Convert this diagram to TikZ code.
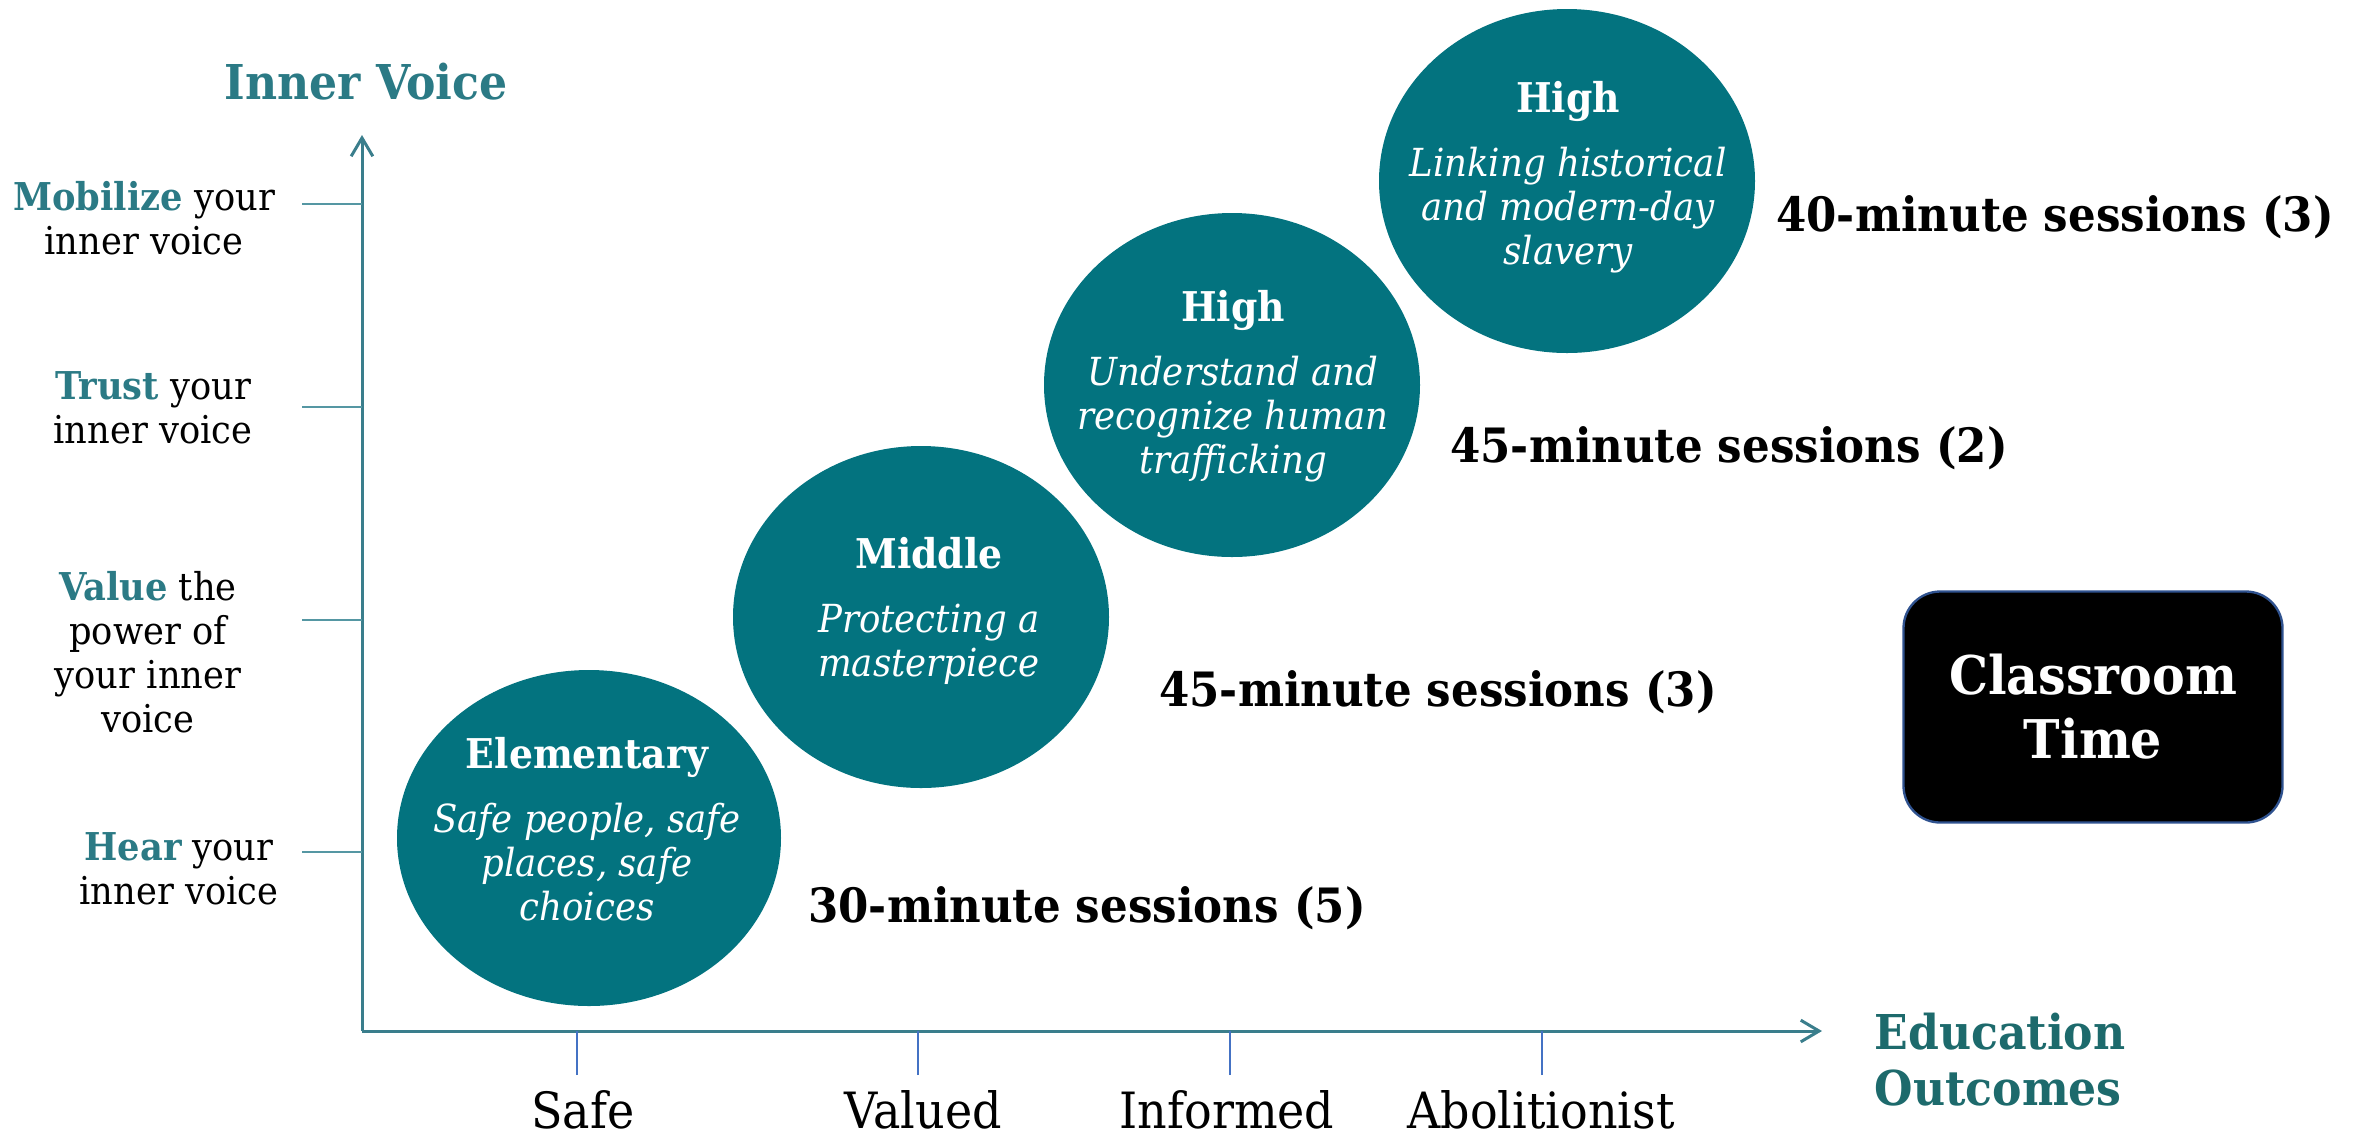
\documentclass[tikz,border=0pt]{standalone}
\usepackage{fontspec}
\setmainfont{DejaVu Serif}[FakeStretch=0.92]
\usetikzlibrary{shapes.geometric,arrows.meta}
\definecolor{tealfill}{HTML}{03737F}
\definecolor{tealtext}{HTML}{2B7A85}
\definecolor{edutext}{HTML}{1D6A6C}
\definecolor{axiscol}{HTML}{3A7E8C}
\definecolor{ytickcol}{HTML}{5597A3}
\definecolor{xtickcol}{HTML}{4472C4}
\definecolor{boxborder}{HTML}{2F528F}
\begin{document}
\begin{tikzpicture}[x=0.3pt,y=-0.3pt,
  blob/.style={ellipse, fill=tealfill, draw=none, inner sep=0pt},
  blobtext/.style={text=white, align=center, inner sep=0pt, font=\fontsize{11.6}{13.2}\selectfont},
  axisline/.style={draw=axiscol, line width=0.9pt, -{Straight Barb[length=5.5pt,width=6.5pt]}},
  ytickline/.style={draw=ytickcol, line width=0.6pt},
  xtickline/.style={draw=xtickcol, line width=0.6pt},
  leftlab/.style={align=center, inner sep=0pt, font=\fontsize{11.5}{13.2}\selectfont},
  session/.style={font=\bfseries\fontsize{14.2}{16}\selectfont, inner sep=0pt},
  xlab/.style={font=\fontsize{15}{18}\selectfont, anchor=base, inner sep=0pt},
  axtitle/.style={font=\bfseries\fontsize{14.4}{16.8}\selectfont, inner sep=0pt},
  classbox/.style={rounded corners=11pt, fill=black, draw=boxborder, line width=0.7pt,
    minimum width=113.7pt, minimum height=69.3pt, text=white, align=center,
    font=\bfseries\fontsize{16}{19.2}\selectfont}
]
\useasboundingbox (0,0) rectangle (2364,1139);

% axes
\coordinate (O) at (362,1031);
\coordinate (ytop) at (362,135);
\coordinate (xend) at (1822,1031);
\draw[axisline] (O) -- (ytop);
\draw[axisline] (O) -- (xend);

% y ticks
\coordinate (ty1) at (302,204);
\coordinate (ty2) at (302,407);
\coordinate (ty3) at (302,620);
\coordinate (ty4) at (302,852);
\foreach \t in {ty1,ty2,ty3,ty4} \draw[ytickline] (\t) -- (\t -| O);

% x ticks
\coordinate (tx1) at (577,1075);
\coordinate (tx2) at (918,1075);
\coordinate (tx3) at (1230,1075);
\coordinate (tx4) at (1542,1075);
\foreach \t in {tx1,tx2,tx3,tx4} \draw[xtickline] (\t) -- (\t |- O);

% axis titles
\node[axtitle, text=tealtext] (ytitle) at (366,82) {Inner Voice};
\node[axtitle, text=edutext, align=left, anchor=west] (xtitle) at (1874,1060) {Education\\Outcomes};

% y labels
\node[leftlab] (l1) at (144,218) {\textbf{\textcolor{tealtext}{Mobilize}} your\\inner voice};
\node[leftlab] (l2) at (153,408) {\textbf{\textcolor{tealtext}{Trust}} your\\inner voice};
\node[leftlab] (l3) at (148,652) {\textbf{\textcolor{tealtext}{Value}} the\\power of\\your inner\\voice};
\node[leftlab] (l4) at (179,869) {\textbf{\textcolor{tealtext}{Hear}} your\\inner voice};

% x labels
\node[xlab] (x1) at (583,1128) {Safe};
\node[xlab] (x2) at (923,1128) {Valued};
\node[xlab] (x3) at (1227,1128) {Informed};
\node[xlab] (x4) at (1541,1128) {Abolitionist};

% ellipses
\node[blob, minimum width=115.2pt, minimum height=100.8pt] (e1) at (589,838) {};
\node[blob, minimum width=112.8pt, minimum height=102.6pt] (e2) at (921,617) {};
\node[blob, minimum width=112.8pt, minimum height=103.2pt] (e3) at (1232,385) {};
\node[blob, minimum width=112.8pt, minimum height=103.2pt] (e4) at (1567,181) {};

\node[blobtext] (t1) at (587,829) {{\bfseries\fontsize{12.3}{13.2}\selectfont Elementary}\\[6pt]\itshape Safe people, safe\\\itshape places, safe\\\itshape choices};
\node[blobtext] (t2) at (929,611) {{\bfseries\fontsize{12.3}{13.2}\selectfont Middle}\\[6pt]\itshape Protecting a\\\itshape masterpiece};
\node[blobtext] (t3) at (1233,386) {{\bfseries\fontsize{12.3}{13.2}\selectfont High}\\[6pt]\itshape Understand and\\\itshape recognize human\\\itshape trafficking};
\node[blobtext] (t4) at (1568,177) {{\bfseries\fontsize{12.3}{13.2}\selectfont High}\\[6pt]\itshape Linking historical\\\itshape and modern-day\\\itshape slavery};

% sessions
\node[session] (s1) at (1087,908) {30-minute sessions (5)};
\node[session] (s2) at (1438,692) {45-minute sessions (3)};
\node[session] (s3) at (1729,448) {45-minute sessions (2)};
\node[session] (s4) at (2055,217) {40-minute sessions (3)};

% classroom box
\node[classbox] (ct) at (2093,707) {Classroom\\Time};
\end{tikzpicture}
\end{document}
